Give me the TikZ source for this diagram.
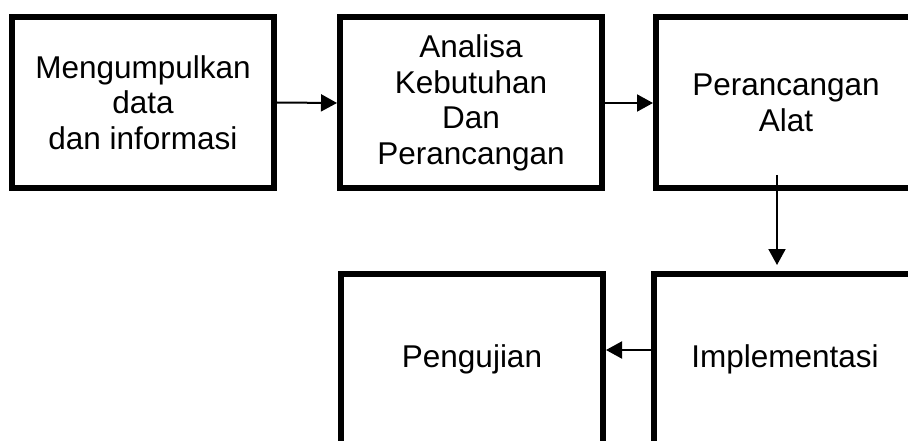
\documentclass[tikz,border=0pt]{standalone}
\usepackage{fontspec}
\setmainfont{Liberation Sans}
\usetikzlibrary{arrows.meta}
\begin{document}
\begin{tikzpicture}[x=1pt,y=1pt,
  box/.style={draw, line width=6pt, minimum width=262pt, minimum height=171pt, inner sep=0pt, align=center, font=\fontsize{31.5}{35.5}\selectfont},
  conn/.style={line width=2pt, -{Triangle[length=16pt,width=17pt]}}]
\useasboundingbox (0,0) rectangle (908,-441);
\clip (0,0) rectangle (908,-441);
\node[box] (b1) at (143,-102.5) {Mengumpulkan\\data\\dan informasi};
\node[box] (b2) at (471,-103) {Analisa\\Kebutuhan\\Dan\\Perancangan};
\node[box, minimum width=260pt] (b3) at (786,-103) {Perancangan\\Alat};
\node[box] (b4) at (472,-359.5) {Pengujian};
\node[box, minimum width=262pt] (b5) at (785,-359.5) {Implementasi};
\coordinate (c0) at (777,-175);
\coordinate (ly) at (0,-350);
\draw[conn] (b1.east) -- (b2.west);
\draw[conn] (b2.east) -- (b3.west);
\draw[conn, shorten >=6pt] (c0) -- (c0 |- b5.north);
\draw[conn] (b5.west |- ly) -- (b4.east |- ly);
\end{tikzpicture}
\end{document}
